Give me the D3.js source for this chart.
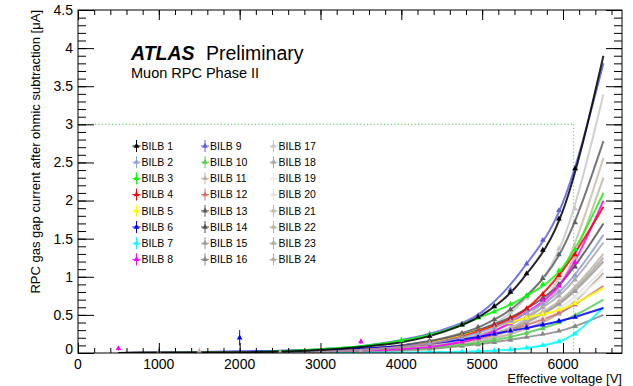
<!DOCTYPE html>
<html>
<head>
<meta charset="utf-8">
<script src="https://cdn.jsdelivr.net/npm/d3@7"></script>
<style>
  html, body { margin: 0; padding: 0; background: #fff; }
  svg { display: block; font-family: "Liberation Sans", Arial, Helvetica, sans-serif; }
</style>
</head>
<body>
<svg id="chart" width="633" height="386"></svg>
<script>
// ---------------- DATA ----------------
const seriesNames = ["BILB 1","BILB 2","BILB 3","BILB 4","BILB 5","BILB 6","BILB 7","BILB 8",
  "BILB 9","BILB 10","BILB 11","BILB 12","BILB 13","BILB 14","BILB 15","BILB 16",
  "BILB 17","BILB 18","BILB 19","BILB 20","BILB 21","BILB 22","BILB 23","BILB 24"];
const seriesColors = ["#000000","#8fa0d2","#00ff00","#ff0000","#ffff00","#0000ff","#00ffff","#ff00ff",
  "#5e5ee0","#55cc55","#bdb6ae","#d27272","#5f5f5f","#505050","#9a9a9a","#888888",
  "#c8c8c8","#a8a8a8","#ececec","#e4e4e4","#c8c0aa","#bfb79e","#b2aa9a","#b9ae9a"];

const fitVoltages = [500, 2000, 3000, 3500, 4000, 4500, 5000, 5500, 6000, 6500];
const fitValues = [
  [0, 0.010, 0.040, 0.080, 0.14, 0.27, 0.50, 0.97, 1.87, 3.90],
  [0, 0.005, 0.020, 0.040, 0.08, 0.15, 0.28, 0.50, 0.85, 1.55],
  [0, 0.010, 0.050, 0.090, 0.16, 0.28, 0.48, 0.72, 1.13, 2.10],
  [0, 0.005, 0.020, 0.040, 0.08, 0.15, 0.30, 0.54, 1.09, 1.92],
  [0, 0.005, 0.020, 0.040, 0.08, 0.16, 0.30, 0.45, 0.58, 0.85],
  [0, 0.020, 0.040, 0.060, 0.09, 0.14, 0.22, 0.32, 0.43, 0.59],
  [0, 0.000, 0.002, 0.004, 0.007, 0.012, 0.025, 0.06, 0.17, 0.60],
  [0, 0.005, 0.020, 0.030, 0.05, 0.10, 0.22, 0.50, 0.95, 2.00],
  [0, 0.015, 0.050, 0.090, 0.17, 0.30, 0.54, 1.10, 1.98, 3.80],
  [0, 0.005, 0.020, 0.030, 0.05, 0.08, 0.14, 0.25, 0.42, 0.70],
  [0, 0.005, 0.015, 0.030, 0.06, 0.12, 0.22, 0.40, 0.72, 1.30],
  [0, 0.005, 0.015, 0.030, 0.05, 0.10, 0.20, 0.35, 0.55, 0.88],
  [0, 0.005, 0.030, 0.050, 0.10, 0.19, 0.36, 0.70, 1.38, 2.78],
  [0, 0.005, 0.020, 0.050, 0.10, 0.18, 0.32, 0.55, 0.95, 1.70],
  [0, 0.003, 0.010, 0.020, 0.05, 0.10, 0.20, 0.38, 0.68, 1.20],
  [0, 0.003, 0.010, 0.020, 0.04, 0.07, 0.12, 0.20, 0.30, 0.50],
  [0, 0.003, 0.020, 0.040, 0.07, 0.15, 0.31, 0.67, 1.48, 3.39],
  [0, 0.003, 0.010, 0.030, 0.06, 0.13, 0.25, 0.45, 0.80, 1.45],
  [0, 0.003, 0.010, 0.020, 0.05, 0.10, 0.20, 0.35, 0.60, 1.00],
  [0, 0.003, 0.010, 0.020, 0.05, 0.10, 0.20, 0.36, 0.62, 1.10],
  [0, 0.002, 0.006, 0.010, 0.03, 0.07, 0.17, 0.42, 1.08, 2.56],
  [0, 0.002, 0.006, 0.010, 0.03, 0.07, 0.17, 0.40, 0.96, 2.30],
  [0, 0.003, 0.010, 0.020, 0.05, 0.10, 0.20, 0.39, 0.70, 1.25],
  [0, 0.003, 0.010, 0.020, 0.04, 0.08, 0.16, 0.30, 0.55, 1.05]
];

// measured points (triangles) at high voltage
const pointVoltages = [4350, 4750, 4950, 5150, 5350, 5550, 5750, 5950, 6150];
const pointValues = [
  [0.22, 0.37, 0.47, 0.61, 0.80, 1.04, 1.35, 1.76, 2.42],
  [0.12, 0.20, 0.26, 0.33, 0.42, 0.53, 0.65, 0.81, 1.02],
  [0.24, 0.37, 0.46, 0.54, 0.64, 0.75, 0.90, 1.08, 1.36],
  [0.12, 0.21, 0.28, 0.36, 0.45, 0.58, 0.77, 1.02, 1.29],
  [0.13, 0.22, 0.28, 0.34, 0.40, 0.46, 0.51, 0.57, 0.65],
  [0.12, 0.18, 0.21, 0.25, 0.29, 0.33, 0.37, 0.42, 0.47],
  [0.01, 0.017, 0.023, 0.032, 0.045, 0.066, 0.10, 0.15, 0.25],
  [0.08, 0.15, 0.20, 0.28, 0.39, 0.53, 0.69, 0.88, 1.19],
  [0.25, 0.38, 0.49, 0.62, 0.83, 1.17, 1.48, 1.87, 2.42],
  [0.07, 0.11, 0.13, 0.17, 0.21, 0.26, 0.32, 0.40, 0.49],
  [0.10, 0.16, 0.21, 0.26, 0.33, 0.42, 0.54, 0.68, 0.86],
  [0.08, 0.14, 0.19, 0.24, 0.30, 0.37, 0.44, 0.53, 0.63],
  [0.16, 0.26, 0.34, 0.44, 0.57, 0.75, 0.98, 1.29, 1.71],
  [0.15, 0.24, 0.30, 0.38, 0.47, 0.58, 0.72, 0.90, 1.13],
  [0.08, 0.14, 0.19, 0.24, 0.31, 0.40, 0.51, 0.64, 0.81],
  [0.06, 0.09, 0.11, 0.14, 0.17, 0.21, 0.25, 0.29, 0.35],
  [0.12, 0.22, 0.29, 0.39, 0.53, 0.72, 1.00, 1.37, 1.89],
  [0.10, 0.18, 0.24, 0.30, 0.38, 0.48, 0.60, 0.75, 0.96],
  [0.08, 0.14, 0.19, 0.24, 0.30, 0.37, 0.46, 0.57, 0.70],
  [0.08, 0.14, 0.19, 0.24, 0.31, 0.38, 0.47, 0.59, 0.73],
  [0.05, 0.11, 0.15, 0.22, 0.32, 0.46, 0.67, 0.98, 1.40],
  [0.05, 0.11, 0.15, 0.22, 0.31, 0.44, 0.62, 0.88, 1.25],
  [0.08, 0.14, 0.19, 0.24, 0.32, 0.41, 0.52, 0.66, 0.83],
  [0.06, 0.11, 0.15, 0.19, 0.25, 0.32, 0.41, 0.51, 0.65]
];

// isolated low-voltage points: [series index, voltage, current, error]
const lowPoints = [
  [7, 500, 0.06, 0.03], [7, 1000, 0.00, 0.03], [14, 1000, 0.01, 0.06], [10, 1500, 0.02, 0.05],
  [5, 2000, 0.20, 0.10], [5, 2500, -0.01, 0.02], [23, 2500, 0.01, 0.02], [14, 3000, 0.01, 0.05],
  [7, 3500, 0.15, 0.03], [23, 3500, 0.02, 0.03], [2, 4000, 0.17, 0.03]
];

// reference working point (green dotted guide)
const refCurrent = 3.0;
const refVoltage = 6130;

const xMajorTicks = [0, 1000, 2000, 3000, 4000, 5000, 6000];
const yMajorTicks = [0, 0.5, 1, 1.5, 2, 2.5, 3, 3.5, 4, 4.5];
const yTickLabels = ["0", "0.5", "1", "1.5", "2", "2.5", "3", "3.5", "4", "4.5"];
const xTickLabels = ["0", "1000", "2000", "3000", "4000", "5000", "6000"];

// ---------------- LAYOUT ----------------
const L = 78, R = 622, T = 10, B = 353;
const svg = d3.select("#chart");
const x = d3.scaleLinear().domain([0, 6730]).range([L, R]);
const y = d3.scaleLinear().domain([0, 4.5]).range([B, T]);

const xMinor = d3.range(0, 6730, 200);
const yMinor = d3.range(0, 4.5001, 0.1);

// clip
svg.append("defs").append("clipPath").attr("id", "clip")
  .append("rect").attr("x", L).attr("y", T).attr("width", R - L).attr("height", B - T);

// guide lines
const guide = svg.append("g").attr("stroke", "#66dd66").attr("stroke-width", 1.2)
  .attr("stroke-dasharray", "1.2,2.2");
guide.append("line").attr("x1", x(0)).attr("x2", x(refVoltage)).attr("y1", y(refCurrent)).attr("y2", y(refCurrent));
guide.append("line").attr("x1", x(refVoltage)).attr("x2", x(refVoltage)).attr("y1", y(refCurrent)).attr("y2", y(0));

// curves
const plot = svg.append("g").attr("clip-path", "url(#clip)");
const line = d3.line().x(d => x(d[0])).y(d => y(d[1])).curve(d3.curveMonotoneX);
const order = d3.range(seriesNames.length).reverse();
order.forEach(i => {
  const pts = fitVoltages.map((v, k) => [v, fitValues[i][k]]);
  plot.append("path").attr("d", line(pts)).attr("fill", "none")
    .attr("stroke", seriesColors[i]).attr("stroke-width", 2).attr("stroke-opacity", 0.85);
});

const tri = d3.symbol().type(d3.symbolTriangle).size(14);
order.forEach(i => {
  pointVoltages.forEach((v, k) => {
    plot.append("path").attr("d", tri())
      .attr("transform", `translate(${x(v)},${y(pointValues[i][k])})`)
      .attr("fill", seriesColors[i]);
  });
});
lowPoints.forEach(p => {
  const [i, v, c, e] = p;
  plot.append("line").attr("x1", x(v)).attr("x2", x(v)).attr("y1", y(c - e)).attr("y2", y(c + e))
    .attr("stroke", seriesColors[i]).attr("stroke-width", 1);
  plot.append("path").attr("d", tri()).attr("transform", `translate(${x(v)},${y(c)})`)
    .attr("fill", seriesColors[i]);
});

// axes (ROOT style ticks inside frame)
function noLabels(a) { return a.tickFormat(""); }
const ax = svg.append("g").attr("stroke-width", 1);
ax.append("g").attr("transform", `translate(0,${B})`)
  .call(noLabels(d3.axisBottom(x).tickValues(xMinor).tickSize(-5).tickSizeOuter(0)));
ax.append("g").attr("transform", `translate(0,${B})`)
  .call(noLabels(d3.axisBottom(x).tickValues(xMajorTicks).tickSize(-10).tickSizeOuter(0)));
ax.append("g").attr("transform", `translate(0,${T})`)
  .call(noLabels(d3.axisTop(x).tickValues(xMinor).tickSize(-5).tickSizeOuter(0)));
ax.append("g").attr("transform", `translate(0,${T})`)
  .call(noLabels(d3.axisTop(x).tickValues(xMajorTicks).tickSize(-10).tickSizeOuter(0)));
ax.append("g").attr("transform", `translate(${L},0)`)
  .call(noLabels(d3.axisLeft(y).tickValues(yMinor).tickSize(-8).tickSizeOuter(0)));
ax.append("g").attr("transform", `translate(${L},0)`)
  .call(noLabels(d3.axisLeft(y).tickValues(yMajorTicks).tickSize(-16).tickSizeOuter(0)));
ax.append("g").attr("transform", `translate(${R},0)`)
  .call(noLabels(d3.axisRight(y).tickValues(yMinor).tickSize(-8).tickSizeOuter(0)));
ax.append("g").attr("transform", `translate(${R},0)`)
  .call(noLabels(d3.axisRight(y).tickValues(yMajorTicks).tickSize(-16).tickSizeOuter(0)));
ax.selectAll("path.domain").remove();
ax.selectAll("line").attr("stroke", "#000");
svg.append("rect").attr("x", L).attr("y", T).attr("width", R - L).attr("height", B - T)
  .attr("fill", "none").attr("stroke", "#000").attr("stroke-width", 1);

// tick labels
const tl = svg.append("g").attr("font-size", 14).attr("fill", "#000");
yMajorTicks.forEach((v, k) => {
  tl.append("text").attr("x", 73).attr("y", y(v) + (v === 0 ? -4 : 0)).attr("dy", "0.35em")
    .attr("text-anchor", "end").text(yTickLabels[k]);
});
xMajorTicks.forEach((v, k) => {
  tl.append("text").attr("x", x(v)).attr("y", 369).attr("text-anchor", "middle").text(xTickLabels[k]);
});

// axis titles
svg.append("text").attr("transform", "translate(40,10) rotate(-90)").attr("text-anchor", "end")
  .attr("font-size", 13).text("RPC gas gap current after ohmic subtraction [μA]");
svg.append("text").attr("x", R).attr("y", 382.5).attr("text-anchor", "end")
  .attr("font-size", 13).text("Effective voltage [V]");

// ATLAS label
const lab = svg.append("text").attr("x", 131).attr("y", 60).attr("font-size", 19.5);
lab.append("tspan").attr("font-weight", "bold").attr("font-style", "italic").text("ATLAS");
lab.append("tspan").attr("x", 206).text("Preliminary");
svg.append("text").attr("x", 131).attr("y", 78).attr("font-size", 14.5).text("Muon RPC Phase II");

// legend
const legX = [136.5, 205, 273.5], legY0 = 146, legDy = 16.2;
const leg = svg.append("g");
seriesNames.forEach((n, i) => {
  const col = Math.floor(i / 8), row = i % 8;
  const cx = legX[col], cy = legY0 + row * legDy;
  const g = leg.append("g").attr("transform", `translate(${cx},${cy})`);
  g.append("line").attr("x1", -4).attr("x2", 4).attr("y1", 0).attr("y2", 0).attr("stroke", seriesColors[i]).attr("stroke-width", 1);
  g.append("line").attr("x1", 0).attr("x2", 0).attr("y1", -6).attr("y2", 6).attr("stroke", seriesColors[i]).attr("stroke-width", 1);
  g.append("path").attr("d", tri()).attr("fill", seriesColors[i]);
  g.append("text").attr("x", 5).attr("y", 0).attr("dy", "0.36em").attr("font-size", 10.5).text(n);
});
</script>
</body>
</html>
